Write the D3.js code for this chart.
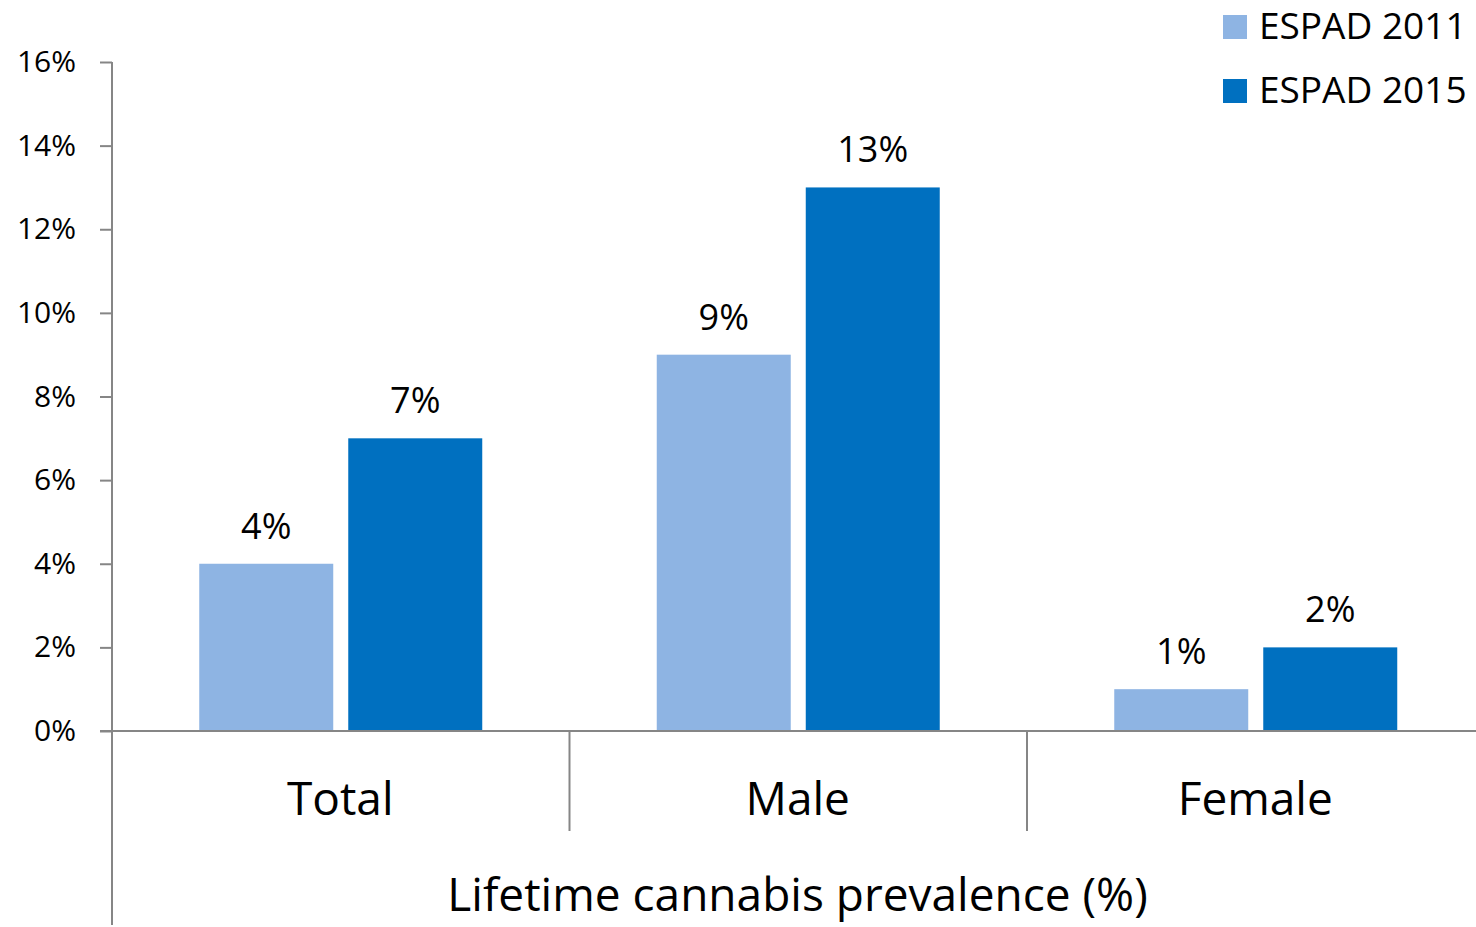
<!DOCTYPE html>
<html><head><meta charset="utf-8">
<script src="https://cdn.jsdelivr.net/npm/d3@7"></script>
<style>body{margin:0;background:#fff}svg{display:block}text{font-family:"Open Sans",sans-serif;fill:#000}</style>
</head><body>
<svg id="c" width="1476" height="927"></svg>
<script>
const categories = ["Total", "Male", "Female"];
const seriesNames = ["ESPAD 2011", "ESPAD 2015"];
const espad2011 = [4, 9, 1];
const espad2015 = [7, 13, 2];
const yTicks = [0, 2, 4, 6, 8, 10, 12, 14, 16];
const axisTitle = "Lifetime cannabis prevalence (%)";
const colors = ["#8EB4E3", "#0070C0"];
const values = [espad2011, espad2015];

const svg = d3.select("#c");
const x0 = d3.scaleBand().domain(categories).range([112, 1484.5]).padding(0);
const cw = x0.bandwidth();
const x1 = d3.scaleBand().domain(seriesNames).range([87.25, cw - 87.25]).paddingInner(0.1007).paddingOuter(0);
const y = d3.scaleLinear().domain([0, 16]).range([731, 62]);
const axisColor = "#868686";

// bars
seriesNames.forEach((s, si) => {
  svg.append("g").selectAll("rect").data(categories).join("rect")
    .attr("x", c => x0(c) + x1(s))
    .attr("y", (c, i) => y(values[si][i]))
    .attr("width", x1.bandwidth())
    .attr("height", (c, i) => y(0) - y(values[si][i]))
    .attr("fill", colors[si]);
  svg.append("g").selectAll("text").data(categories).join("text")
    .attr("x", c => x0(c) + x1(s) + x1.bandwidth() / 2)
    .attr("y", (c, i) => y(values[si][i]) - 25)
    .attr("text-anchor", "middle")
    .attr("font-size", 36)
    .text((c, i) => values[si][i] + "%");
});

// y axis
const yAxis = d3.axisLeft(y).tickValues(yTicks).tickFormat(d => d + "%").tickSize(12).tickPadding(24);
const gy = svg.append("g").attr("transform", "translate(112,0)").call(yAxis);
gy.select(".domain").remove();
gy.selectAll(".tick line").attr("stroke", axisColor).attr("stroke-width", 2);
gy.selectAll(".tick text").attr("font-size", 30).attr("font-family", "Open Sans").attr("fill", "#000");
svg.append("line").attr("x1", 112).attr("x2", 112).attr("y1", 62).attr("y2", 925)
  .attr("stroke", axisColor).attr("stroke-width", 2);

// x axis
svg.append("line").attr("x1", 100).attr("x2", 1476).attr("y1", y(0)).attr("y2", y(0))
  .attr("stroke", axisColor).attr("stroke-width", 2);
svg.append("g").selectAll("line").data(categories.slice(1)).join("line")
  .attr("x1", c => x0(c)).attr("x2", c => x0(c))
  .attr("y1", y(0)).attr("y2", 831)
  .attr("stroke", axisColor).attr("stroke-width", 2);
svg.append("g").selectAll("text").data(categories).join("text")
  .attr("x", c => x0(c) + cw / 2 - 0.5)
  .attr("y", 815)
  .attr("text-anchor", "middle")
  .attr("font-size", 46)
  .text(c => c);
svg.append("text").attr("x", 797.5).attr("y", 911).attr("text-anchor", "middle")
  .attr("font-size", 46).text(axisTitle);

// legend
const lg = svg.append("g");
seriesNames.forEach((s, i) => {
  lg.append("rect").attr("x", 1223).attr("y", 15 + i * 64).attr("width", 24).attr("height", 24).attr("fill", colors[i]);
  lg.append("text").attr("x", 1259).attr("y", 39 + i * 64).attr("font-size", 37).text(s);
});
</script>
</body></html>
